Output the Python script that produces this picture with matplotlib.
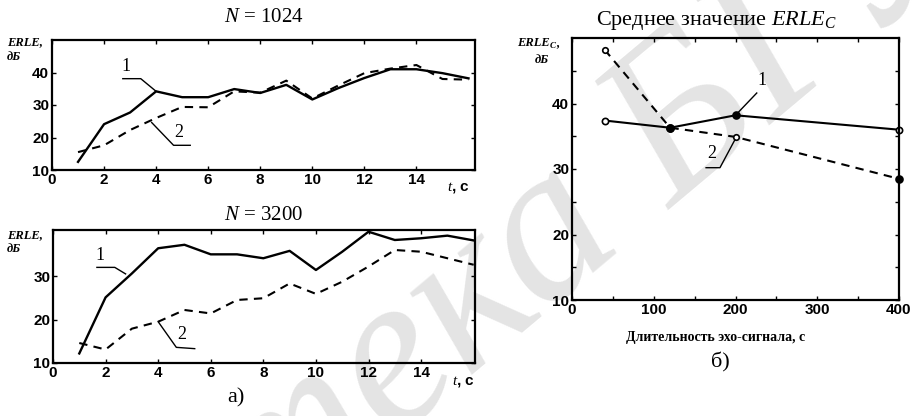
import numpy as np
import matplotlib
matplotlib.use("Agg")
import matplotlib.pyplot as plt

# время, с
t = [1, 2, 3, 4, 5, 6, 7, 8, 9, 10, 11, 12, 13, 14, 15, 16]

# N = 1024
erle_1024_1 = [12.5, 24.1, 27.7, 34.2, 32.4, 32.4, 34.9, 33.7, 36.2, 31.7, 35.2, 38.3, 41.0, 41.0, 39.8, 38.2]
erle_1024_2 = [15.5, 17.6, 22.3, 26.0, 29.4, 29.3, 34.2, 33.8, 37.5, 32.0, 36.0, 39.8, 41.2, 42.3, 38.0, 37.8]

# N = 3200
erle_3200_1 = [12.2, 25.1, 30.6, 36.4, 37.2, 35.0, 35.0, 34.1, 35.8, 31.4, 35.6, 40.2, 38.3, 38.7, 39.3, 38.2]
erle_3200_2 = [14.6, 13.1, 17.9, 19.5, 22.2, 21.4, 24.5, 24.9, 28.3, 25.9, 28.7, 32.2, 36.0, 35.6, 34.1, 32.6]

# среднее значение ERLE_C
dur = [40, 120, 200, 400]
erlec_1 = [37.4, 36.3, 38.2, 36.0]
erlec_2 = [48.2, 36.3, 34.9, 28.5]

x_ticks_a = [0, 2, 4, 6, 8, 10, 12, 14]
x_ticks_b = [0, 100, 200, 300, 400]

serif = "Liberation Serif"
sans = "Liberation Sans"
plt.rcParams["mathtext.fontset"] = "custom"
plt.rcParams["mathtext.it"] = "Liberation Serif:italic"
plt.rcParams["mathtext.rm"] = "Liberation Serif"

fig = plt.figure(figsize=(9.19, 4.16), dpi=100)
W, H = 919.0, 416.0


def ax_px(l, t_, r, b):
    return fig.add_axes([l / W, 1 - b / H, (r - l) / W, (b - t_) / H])


def style(ax):
    ax.tick_params(direction="in", top=True, right=True, length=3, width=1, pad=2,
                   labelsize=11)
    for s in ax.spines.values():
        s.set_linewidth(1.6)
    for lb in ax.get_xticklabels() + ax.get_yticklabels():
        lb.set_fontfamily(sans)
        lb.set_fontweight("bold")


def ftext(x, y, s, **kw):
    fig.text(x / W, 1 - y / H, s, **kw)


# водяной знак
ftext(450, 325, "Библиотека БГУИР", fontsize=160, style="italic", rotation=40,
      rotation_mode="anchor", color="#e4e4e4", ha="center", va="center",
      family=serif, zorder=-5)

dash = (0, (4, 3))
lab = dict(family=serif, fontsize=9, style="italic", fontweight="bold", va="center")

# --- а) N = 1024
ax1 = ax_px(52, 40, 475, 170)
ax1.plot(t, erle_1024_1, color="black", lw=1.7)
ax1.plot(t, erle_1024_2, color="black", lw=1.5, linestyle=dash)
ax1.set_xlim(0, 16.25)
ax1.set_ylim(10, 50)
ax1.set_xticks(x_ticks_a)
ax1.set_yticks([10, 20, 30, 40])
ax1.patch.set_alpha(0)
style(ax1)
ax1.set_title("$N$ = 1024", family=serif, fontsize=15, pad=13)
ax1.plot([2.72, 3.41, t[3]], [38.1, 38.1, erle_1024_1[3]], color="black", lw=1)
ax1.text(2.85, 41.8, "1", family=serif, fontsize=13, ha="center", va="center")
ax1.plot([t[3] - 0.17, 4.67, 5.31], [erle_1024_2[3] - 1.4, 17.6, 17.6], color="black", lw=1)
ax1.text(4.86, 21.6, "2", family=serif, fontsize=13, ha="center", va="center")
ax1.text(15.6, -0.08, "$t$, c", transform=ax1.get_xaxis_transform(), fontsize=11,
         fontweight="bold", family=sans, ha="center", va="top")
ftext(7, 42, "ERLE,", **lab)
ftext(7, 57, "дБ", **lab)

# --- а) N = 3200
ax2 = ax_px(53, 230, 475, 363)
ax2.plot(t, erle_3200_1, color="black", lw=1.7)
ax2.plot(t, erle_3200_2, color="black", lw=1.5, linestyle=dash)
ax2.set_xlim(0, 16.05)
ax2.set_ylim(10, 40.6)
ax2.set_xticks(x_ticks_a)
ax2.set_yticks([10, 20, 30])
ax2.patch.set_alpha(0)
style(ax2)
ax2.set_title("$N$ = 3200", family=serif, fontsize=15, pad=7)
ax2.plot([1.67, 2.35, 2.76], [32.0, 32.0, 30.5], color="black", lw=1)
ax2.text(1.78, 34.8, "1", family=serif, fontsize=13, ha="center", va="center")
ax2.plot([t[3], 4.69, 5.39], [erle_3200_2[3], 13.6, 13.3], color="black", lw=1)
ax2.text(4.88, 16.6, "2", family=serif, fontsize=13, ha="center", va="center")
ax2.text(15.6, -0.08, "$t$, c", transform=ax2.get_xaxis_transform(), fontsize=11,
         fontweight="bold", family=sans, ha="center", va="top")
ftext(7, 235, "ERLE,", **lab)
ftext(7, 249, "дБ", **lab)
ftext(236, 398, "а)", family=serif, fontsize=16, ha="center", va="center")

# --- б) среднее ERLE_C
ax3 = ax_px(572, 38, 899, 300)
ax3.plot(dur, erlec_1, color="black", lw=1.5)
ax3.plot(dur, erlec_2, color="black", lw=1.5, linestyle=dash)
filled_1 = [False, True, True, False]
filled_2 = [False, True, False, True]
for xi, yi, f in zip(dur, erlec_1, filled_1):
    ax3.plot(xi, yi, "o", ms=5 if f else 4.5, mec="black", mew=1.2,
             mfc="black" if f else "white", clip_on=False)
for xi, yi, f in zip(dur, erlec_2, filled_2):
    ax3.plot(xi, yi, "o", ms=5 if f else 4, mec="black", mew=1.2,
             mfc="black" if f else "white", clip_on=False)
ax3.set_xlim(0, 400)
ax3.set_ylim(10, 50)
ax3.set_xticks(x_ticks_b)
ax3.set_xticks([50, 150, 250, 350], minor=True)
ax3.set_yticks([10, 20, 30, 40])
ax3.set_yticks([15, 25, 35, 45], minor=True)
ax3.tick_params(which="minor", direction="in", top=True, right=True, length=3, width=1)
ax3.patch.set_alpha(0)
style(ax3)
ftext(716, 21, "Среднее значение $ERLE_C$", family=serif, fontsize=16,
      ha="center", va="center")
ax3.plot([226, 203], [41.6, 38.6], color="black", lw=1)
ax3.text(232, 43.5, "1", family=serif, fontsize=13, ha="center", va="center")
ax3.plot([164, 181, 199], [30.2, 30.2, 34.4], color="black", lw=1)
ax3.text(171, 32.3, "2", family=serif, fontsize=13, ha="center", va="center")
ftext(716, 338, "Длительность эхо-сигнала, с", family=serif, fontsize=10,
      fontweight="bold", ha="center", va="center")
ftext(517, 43, "ERLE", **lab)
ftext(550, 46, "C", family=serif, fontsize=6.5, style="italic", fontweight="bold",
      va="center")
ftext(556, 43, ",", **lab)
ftext(535, 60, "дБ", **lab)
ftext(720, 362, "б)", family=serif, fontsize=16, ha="center", va="center")

fig.savefig("out.png", dpi=100)
